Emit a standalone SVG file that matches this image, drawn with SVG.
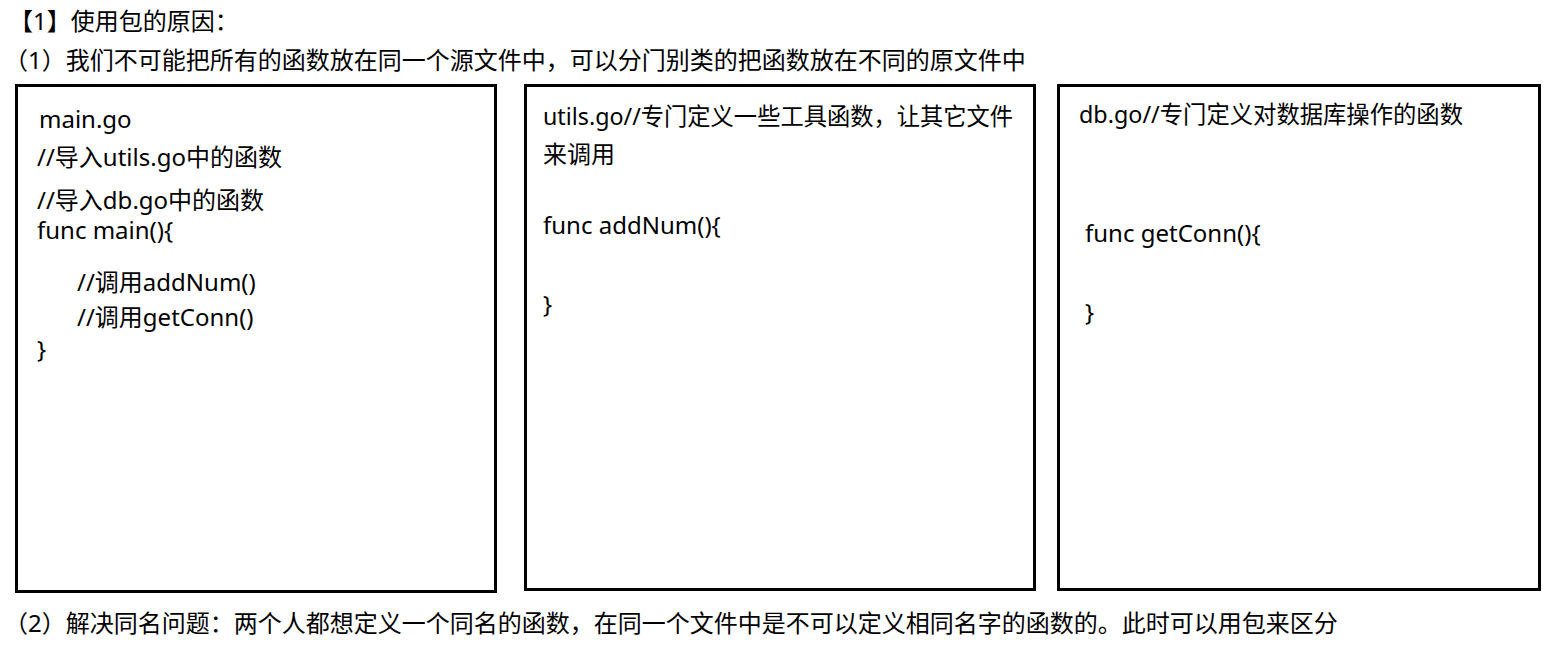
<svg xmlns="http://www.w3.org/2000/svg" width="1560" height="662" viewBox="0 0 1560 662">
<style>
text{font-family:"Noto Sans","Noto Sans CJK SC",sans-serif;font-size:24px;fill:#000}
.box{fill:#fff;stroke:#000;stroke-width:3}
</style>
<rect width="1560" height="662" fill="#fff"/>
<g id="heading">
<text x="9" y="30">【1】使用包的原因：</text>
<text x="4" y="69">（1）我们不可能把所有的函数放在同一个源文件中，可以分门别类的把函数放在不同的原文件中</text>
</g>
<g id="main-go">
<rect class="box" x="16.5" y="85.5" width="479" height="506"/>
<text x="39" y="128">main.go</text>
<text x="37" y="166">//导入utils.go中的函数</text>
<text x="37" y="209">//导入db.go中的函数</text>
<text x="37" y="239">func main(){</text>
<text x="77" y="291">//调用addNum()</text>
<text x="77" y="326">//调用getConn()</text>
<text x="37" y="358">}</text>
</g>
<g id="utils-go">
<rect class="box" x="525.5" y="85.5" width="509" height="504"/>
<text x="543" y="125" textLength="470" lengthAdjust="spacingAndGlyphs">utils.go//专门定义一些工具函数，让其它文件</text>
<text x="543" y="163">来调用</text>
<text x="543" y="234">func addNum(){</text>
<text x="543" y="313">}</text>
</g>
<g id="db-go">
<rect class="box" x="1058.5" y="85.5" width="481" height="504"/>
<text x="1079" y="123" textLength="384" lengthAdjust="spacingAndGlyphs">db.go//专门定义对数据库操作的函数</text>
<text x="1085" y="242">func getConn(){</text>
<text x="1085" y="321">}</text>
</g>
<g id="connectors"></g>
<g id="footer">
<text x="4" y="632">（2）解决同名问题：两个人都想定义一个同名的函数，在同一个文件中是不可以定义相同名字的函数的。此时可以用包来区分</text>
</g>
</svg>
